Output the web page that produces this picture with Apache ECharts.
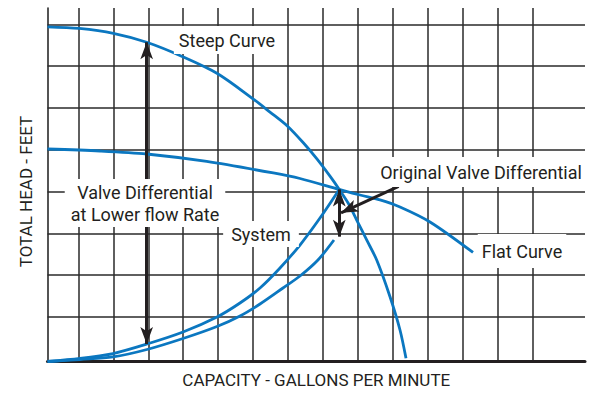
<!DOCTYPE html>
<html>
<head>
<meta charset="utf-8">
<script src="https://cdn.jsdelivr.net/npm/echarts@6/dist/echarts.min.js"></script>
<style>
  html, body { margin: 0; padding: 0; background: #fff; }
  #chart { width: 592px; height: 394px; }
</style>
</head>
<body>
<div id="chart"></div>
<script>
// Curves in grid units: x = capacity columns, y = head rows
const steepCurve = [
  [0.115, 7.94], [1.025, 7.90], [2.0, 7.785], [2.955, 7.57], [3.986, 7.225],
  [4.977, 6.823], [5.979, 6.23], [6.486, 5.90], [6.982, 5.567], [7.44, 5.165],
  [7.824, 4.785], [8.204, 4.366], [8.47, 4.05], [8.728, 3.718], [8.969, 3.318],
  [9.255, 2.84], [9.542, 2.361], [9.923, 1.483], [10.209, 0.687], [10.381, 0.01]
];
const flatCurve = [
  [0.115, 5.017], [1.618, 4.969], [2.955, 4.897], [4.674, 4.718], [6.581, 4.443],
  [7.345, 4.311], [8.47, 4.05], [9.064, 3.916], [9.637, 3.80], [10.209, 3.629],
  [11.068, 3.27], [12.3, 2.541]
];
const systemCurve = [
  [0.115, -0.067], [1.045, 0.005], [1.99, 0.124], [2.964, 0.352], [3.995, 0.639],
  [4.968, 0.998], [5.627, 1.333], [6.2, 1.691], [6.773, 2.17], [7.345, 2.72],
  [7.918, 3.366], [8.47, 4.05]
];
const systemCurveLow = [
  [0.115, -0.067], [1.045, -0.019], [1.99, 0.041], [2.964, 0.22], [3.995, 0.483],
  [4.968, 0.77], [5.627, 1.022], [6.2, 1.309], [6.858, 1.691], [7.345, 1.978],
  [7.86, 2.361], [8.318, 2.84]
];

// Valve differential arrows, grid units [from, to]
const lowFlowArrow = [[2.955, 7.57], [2.955, 0.35]];
const originalArrow = [[8.47, 4.05], [8.47, 2.92]];
const pointerArrow = [[10.17, 4.12], [8.52, 3.49]];

// Grid divisions
const headRows = 8;
const capacityCols = 14;
const capacitySpan = 15.507;

const BLUE = '#0b77c0';
const INK = '#231f20';
const GRID = '#2a2a2a';
const FONT = 'Roboto';
const FONT_SIZE = 18;
const AXIS_FONT_SIZE = 17;

const chart = echarts.init(document.getElementById('chart'), null, { renderer: 'svg' });

function curve(name, data) {
  return {
    name, type: 'line', data, xAxisIndex: 2, yAxisIndex: 2,
    smooth: 0.3, showSymbol: false, clip: false, silent: true,
    lineStyle: { color: BLUE, width: 2.8 }, z: 3
  };
}

const headSize = [9.5, 17];
function arrowLine(pts, both) {
  return [
    { coord: pts[0], symbol: both ? 'arrow' : 'none', symbolSize: headSize },
    { coord: pts[1], symbol: 'arrow', symbolSize: headSize }
  ];
}

const noAxisBits = {
  axisTick: { show: false }, axisLabel: { show: false }
};

const labelStyle = (text, x, y, extra) => ({
  type: 'text', x, y, z: 100,
  style: Object.assign({
    text, fill: INK, font: FONT_SIZE + 'px ' + FONT,
    align: 'center', verticalAlign: 'middle',
    backgroundColor: '#fff', padding: [5, 5]
  }, extra || {})
});

chart.setOption({
  animation: false,
  grid: [
    { left: 47.5, top: 24.3, width: 537.5, height: 334.4, outerBoundsMode: 'none' },
    { left: 43.5, top: 8, width: 488.9, height: 353.5, outerBoundsMode: 'none' },
    { left: 43.5, top: 24.3, width: 541.5, height: 334.4, outerBoundsMode: 'none' }
  ],
  xAxis: [
    Object.assign({
      gridIndex: 0, type: 'value', min: 0, max: 1, offset: 2.8,
      axisLine: { show: true, onZero: false, lineStyle: { color: INK, width: 3 } },
      splitLine: { show: false },
      name: 'CAPACITY - GALLONS PER MINUTE', nameLocation: 'middle', nameGap: 10,
      nameTextStyle: { color: INK, fontFamily: FONT, fontSize: AXIS_FONT_SIZE }
    }, noAxisBits),
    Object.assign({
      gridIndex: 1, type: 'value', min: 0, max: capacityCols, interval: 1,
      axisLine: { show: false },
      splitLine: { show: true, showMinLine: false, lineStyle: { color: GRID, width: 1.5 } }
    }, noAxisBits),
    { gridIndex: 2, type: 'value', min: 0, max: capacitySpan, show: false }
  ],
  yAxis: [
    Object.assign({
      gridIndex: 0, type: 'value', min: 0, max: headRows, interval: 1,
      axisLine: { show: false },
      splitLine: { show: true, showMinLine: false, lineStyle: { color: GRID, width: 1.5 } },
      name: 'TOTAL HEAD - FEET', nameLocation: 'middle', nameGap: 13, nameRotate: 90,
      nameTextStyle: { color: INK, fontFamily: FONT, fontSize: AXIS_FONT_SIZE }
    }, noAxisBits),
    Object.assign({
      gridIndex: 1, type: 'value', min: 0, max: 1, offset: -4,
      axisLine: { show: true, onZero: false, lineStyle: { color: GRID, width: 1.6 } },
      splitLine: { show: false }
    }, noAxisBits),
    { gridIndex: 2, type: 'value', min: 0, max: headRows, show: false }
  ],
  series: [
    curve('Steep Curve', steepCurve),
    curve('Flat Curve', flatCurve),
    curve('System', systemCurve),
    curve('System (lower flow)', systemCurveLow),
    {
      type: 'line', data: [], xAxisIndex: 2, yAxisIndex: 2, z: 4,
      markLine: {
        silent: true, animation: false,
        label: { show: false },
        lineStyle: { color: INK, width: 3, type: 'solid', opacity: 1 },
        itemStyle: { color: INK },
        emphasis: { disabled: true },
        data: [
          arrowLine(lowFlowArrow, true),
          arrowLine(originalArrow, true),
          arrowLine(pointerArrow, false)
        ]
      }
    }
  ],
  graphic: [
    labelStyle('Steep Curve', 227, 40),
    labelStyle('Original Valve Differential', 481, 172, { padding: [7, 4, 5, 4] }),
    labelStyle('Flat Curve', 522, 251, { padding: [8, 4] }),
    labelStyle('System', 261, 234, { padding: [4, 8] }),
    labelStyle('Valve Differential\nat Lower flow Rate', 145, 203, { lineHeight: 22, padding: [2, 6] })
  ]
});
</script>
</body>
</html>
